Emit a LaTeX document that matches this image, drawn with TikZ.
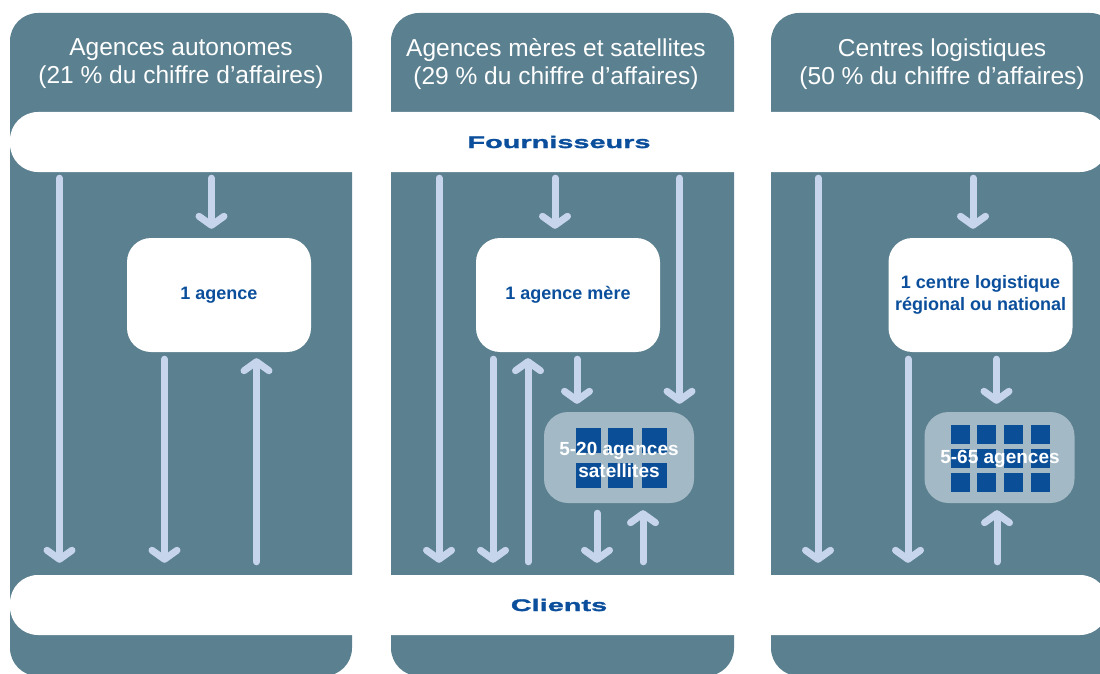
\documentclass[tikz,border=0pt]{standalone}
\usepackage{fontspec}
\setmainfont{Liberation Sans}
\newfontfamily\widefont[FakeStretch=1.72,BoldFeatures={FakeBold=1.6}]{Liberation Sans}
\usetikzlibrary{arrows.meta,calc}
\definecolor{slate}{HTML}{5B808F}
\definecolor{arrowc}{HTML}{C6D4EC}
\definecolor{satc}{HTML}{A3B9C5}
\definecolor{txtblue}{HTML}{0B4F9C}
\definecolor{sqblue}{HTML}{0A4E98}
\newcommand\bandtxt[1]{{\widefont\fontsize{16.8}{18}\selectfont\bfseries #1}}
\begin{document}
\begin{tikzpicture}[x=1pt,y=-1pt,
  col/.style={fill=slate, rounded corners=28pt},
  band/.style={fill=white, rounded corners=28pt, minimum width=1098pt, minimum height=60pt, inner sep=0pt, text=txtblue},
  head/.style={text=white, align=center, font=\fontsize{24.5}{28}\selectfont},
  box/.style={fill=white, rounded corners=24pt, minimum width=184pt, minimum height=114pt, inner sep=0pt, text=txtblue, align=center, font=\fontsize{18}{22}\selectfont\bfseries},
  satbox/.style={fill=satc, rounded corners=24pt, minimum width=150pt, minimum height=91pt, inner sep=0pt},
  sattxt/.style={text=white, align=center, font=\fontsize{19}{22}\selectfont\bfseries},
  sq/.style={fill=sqblue},
  arr/.style={draw=arrowc, line width=7pt, line cap=round, line join=round, -{Straight Barb[length=9pt,width=25pt,round]}},
]
\useasboundingbox (0,0) rectangle (1100,674);
% columns
\fill[col] (10,676) rectangle (352,13);
\fill[col] (391,676) rectangle (734,13);
\fill[col] (771,676) rectangle (1118,13);
% headers
\node[head] (h1) at (181,64) {Agences autonomes\\(21 \% du chiffre d’affaires)};
\node[head] (h2) at (556,64) {Agences mères et satellites\\(29 \% du chiffre d’affaires)};
\node[head] (h3) at (942,64) {Centres logistiques\\(50 \% du chiffre d’affaires)};
% bands
\node[band] (f) at (559,142) {\bandtxt{Fournisseurs}};
\node[band] (c) at (559,605) {\bandtxt{Clients}};
% boxes
\node[box] (b1) at (219,295) {1 agence};
\node[box] (b2) at (568,295) {1 agence mère};
\node[box] (b3) at (980.5,295) {1 centre logistique\\régional ou national};
\node[satbox] (s2) at (619,457.5) {};
\node[satbox] (g3) at (999.5,457.5) {};
% squares
\foreach \xx in {576,608,642}{
  \foreach \yy in {428,463}{
    \fill[sq] (\xx,\yy) rectangle ++(25,25);
  }
}
\foreach \xx in {951,977,1004,1031}{
  \foreach \yy in {425,449,473}{
    \fill[sq] (\xx,\yy) rectangle ++(19,19);
  }
}
\node[sattxt] (s2t) at (619,460) {5-20 agences\\satellites};
\node[sattxt] (g3t) at (1000,459) {5-65 agences};
% x positions
\coordinate (x1a) at (59.5,0);
\coordinate (x1b) at (211.5,0);
\coordinate (x1c) at (164.5,0);
\coordinate (x1d) at (256.5,0);
\coordinate (x2a) at (439,0);
\coordinate (x2b) at (555,0);
\coordinate (x2c) at (679.5,0);
\coordinate (x2d) at (493,0);
\coordinate (x2e) at (528,0);
\coordinate (x2f) at (577,0);
\coordinate (x2g) at (597,0);
\coordinate (x2h) at (643,0);
\coordinate (x3a) at (818,0);
\coordinate (x3b) at (908,0);
\coordinate (x3c) at (973,0);
\coordinate (x3d) at (996.5,0);
\coordinate (x3e) at (997,0);
% column 1
\draw[arr] ($(f.south-|x1a)+(0,6)$) -- ($(c.north-|x1a)+(0,-12)$);
\draw[arr] ($(f.south-|x1b)+(0,6)$) -- ($(b1.north-|x1b)+(0,-9)$);
\draw[arr] ($(b1.south-|x1c)+(0,7)$) -- ($(c.north-|x1c)+(0,-12)$);
\draw[arr] ($(c.north-|x1d)+(0,-13)$) -- ($(b1.south-|x1d)+(0,6)$);
% column 2
\draw[arr] ($(f.south-|x2a)+(0,6)$) -- ($(c.north-|x2a)+(0,-12)$);
\draw[arr] ($(f.south-|x2b)+(0,6)$) -- ($(b2.north-|x2b)+(0,-9)$);
\draw[arr] ($(f.south-|x2c)+(0,6)$) -- ($(s2.north-|x2c)+(0,-8)$);
\draw[arr] ($(b2.south-|x2d)+(0,7)$) -- ($(c.north-|x2d)+(0,-12)$);
\draw[arr] ($(c.north-|x2e)+(0,-13)$) -- ($(b2.south-|x2e)+(0,6)$);
\draw[arr] ($(b2.south-|x2f)+(0,7)$) -- ($(s2.north-|x2f)+(0,-8)$);
\draw[arr] ($(s2.south-|x2g)+(0,10)$) -- ($(c.north-|x2g)+(0,-12)$);
\draw[arr] ($(c.north-|x2h)+(0,-13)$) -- ($(s2.south-|x2h)+(0,7)$);
% column 3
\draw[arr] ($(f.south-|x3a)+(0,6)$) -- ($(c.north-|x3a)+(0,-12)$);
\draw[arr] ($(b3.south-|x3b)+(0,7)$) -- ($(c.north-|x3b)+(0,-12)$);
\draw[arr] ($(f.south-|x3c)+(0,6)$) -- ($(b3.north-|x3c)+(0,-9)$);
\draw[arr] ($(b3.south-|x3d)+(0,7)$) -- ($(g3.north-|x3d)+(0,-8)$);
\draw[arr] ($(c.north-|x3e)+(0,-13)$) -- ($(g3.south-|x3e)+(0,7)$);
\end{tikzpicture}
\end{document}
